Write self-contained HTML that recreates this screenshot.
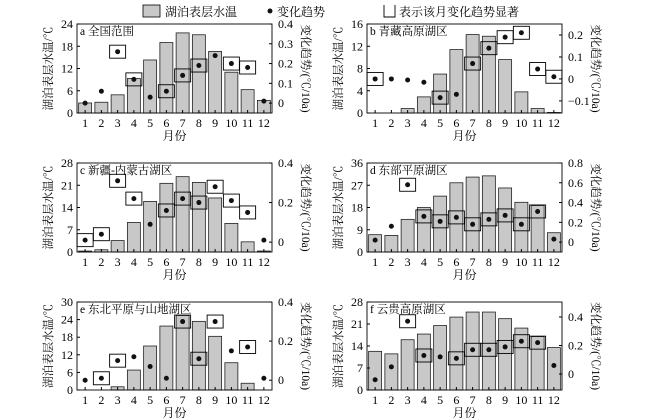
<!DOCTYPE html>
<html><head><meta charset="utf-8"><style>
html,body{margin:0;padding:0;background:#fff;}
svg{display:block;font-family:"Liberation Serif","Noto Serif CJK SC","Noto Sans CJK SC",serif;}
</style></head><body>
<svg id="s" width="650" height="420" viewBox="0 0 650 420" xmlns="http://www.w3.org/2000/svg">
<rect x="143" y="5" width="17" height="12" fill="#c8c8c8" stroke="#000" stroke-width="0.8"/>
<text x="165" y="16" font-size="12">湖泊表层水温</text>
<circle cx="270" cy="11" r="2.5" fill="#111"/>
<text x="277" y="16" font-size="12">变化趋势</text>
<path d="M384 5 V17 H395 V5" fill="none" stroke="#000" stroke-width="0.9"/>
<text x="399" y="16" font-size="12">表示该月变化趋势显著</text>
</svg>
<script>
var s=document.getElementById('s');var NS='http://www.w3.org/2000/svg';
function el(t,a,txt){var e=document.createElementNS(NS,t);for(var k in a)e.setAttribute(k,a[k]);if(txt!=null)e.textContent=txt;s.appendChild(e);return e;}
var P=[
{x0:77,x1:272,y0:24,y1:113,lmax:24,lt:[0,6,12,18,24],rmin:-0.05,rmax:0.4,rt:[0,0.1,0.2,0.3,0.4],rl:['0','0.1','0.2','0.3','0.4'],t:'a 全国范围',
b:[2.7,2.9,4.9,9.3,14.3,19,21.6,21.1,16.6,11,6.3,3.4],tr:[0,0.06,0.26,0.12,0.03,0.06,0.14,0.19,0.24,0.2,0.18,0.01],sg:[3,4,6,7,8,10,11]},
{x0:367,x1:562,y0:24,y1:113,lmax:16,lt:[0,4,8,12,16],rmin:-0.155,rmax:0.25,rt:[-0.1,0,0.1,0.2],rl:['−0.1','0','0.1','0.2'],t:'b 青藏高原湖区',
b:[0,0,0.8,2.9,7,11.4,14.1,13.8,9.6,3.8,0.8,0.1],tr:[0,0,-0.005,-0.015,-0.085,-0.07,0.07,0.14,0.19,0.21,0.045,0.01],sg:[1,5,7,8,9,10,11,12]},
{x0:77,x1:272,y0:163,y1:252,lmax:28,lt:[0,7,14,21,28],rmin:-0.05,rmax:0.4,rt:[0,0.2,0.4],rl:['0','0.2','0.4'],t:'c 新疆-内蒙古湖区',
b:[0.3,0.7,3.6,9.3,15.9,21.6,23.7,21.9,17,9,3.2,0.3],tr:[0.01,0.04,0.31,0.22,0.09,0.16,0.22,0.2,0.28,0.21,0.15,0.01],sg:[1,2,3,4,6,7,8,9,10,11]},
{x0:367,x1:562,y0:163,y1:252,lmax:36,lt:[0,9,18,27,36],rmin:-0.1,rmax:0.8,rt:[0,0.2,0.4,0.6,0.8],rl:['0','0.2','0.4','0.6','0.8'],t:'d 东部平原湖区',
b:[7,6.7,13.2,18,22.6,28,30.3,30.8,25.9,20.1,18.8,7.8],tr:[0.02,0.16,0.58,0.26,0.21,0.25,0.18,0.23,0.27,0.18,0.31,0.03],sg:[3,4,5,6,7,8,9,10,11]},
{x0:77,x1:272,y0:302,y1:390,lmax:30,lt:[0,6,12,18,24,30],rmin:-0.05,rmax:0.4,rt:[0,0.2,0.4],rl:['0','0.2','0.4'],t:'e 东北平原与山地湖区',
b:[0,0,1.1,6.8,15,21.8,25.4,23.4,18.3,9.3,2.3,0],tr:[0,0.01,0.1,0.12,0.07,0.01,0.3,0.11,0.3,0.15,0.17,0.01],sg:[2,3,7,8,9,11]},
{x0:367,x1:562,y0:302,y1:390,lmax:28,lt:[0,7,14,21,28],rmin:-0.112,rmax:0.505,rt:[0,0.2,0.4],rl:['0','0.2','0.4'],t:'f 云贵高原湖区',
b:[12.3,11.5,16,17.8,20.5,23.2,24.8,24.8,22.7,19.7,17,13.5],tr:[-0.04,0.05,0.37,0.13,0.12,0.11,0.17,0.17,0.19,0.23,0.22,0.06],sg:[3,4,6,7,8,9,10,11]}
];
P.forEach(function(p){
 var w=p.x1-p.x0,h=p.y1-p.y0,sp=w/12;
 function X(i){return p.x0+sp*(i+0.5);}
 function YL(v){return p.y1-v/p.lmax*h;}
 function YR(v){return p.y1-(v-p.rmin)/(p.rmax-p.rmin)*h;}
 p.b.forEach(function(v,i){if(v>0)el('rect',{x:X(i)-6.5,y:YL(v),width:13,height:p.y1-YL(v),fill:'#c8c8c8',stroke:'#222','stroke-width':0.8});});
 p.tr.forEach(function(v,i){var cx=X(i),cy=YR(v);
  if(p.sg.indexOf(i+1)>=0)el('rect',{x:cx-8,y:cy-6.5,width:16,height:13,fill:'none',stroke:'#000','stroke-width':0.9});
  el('circle',{cx:cx,cy:cy,r:2.5,fill:'#111'});});
 el('rect',{x:p.x0,y:p.y0,width:w,height:h,fill:'none',stroke:'#000','stroke-width':0.9});
 p.lt.forEach(function(v){var y=YL(v);el('line',{x1:p.x0,x2:p.x0+3,y1:y,y2:y,stroke:'#000'});el('text',{x:p.x0-4,y:y+4,'font-size':12,'text-anchor':'end'},v);});
 p.rt.forEach(function(v,k){var y=YR(v);el('line',{x1:p.x1-3,x2:p.x1,y1:y,y2:y,stroke:'#000'});el('text',{x:p.x1+6,y:y+4,'font-size':12},p.rl[k]);});
 for(var i=0;i<12;i++){el('line',{x1:X(i),x2:X(i),y1:p.y1,y2:p.y1-3,stroke:'#000'});el('text',{x:X(i),y:p.y1+14,'font-size':12,'text-anchor':'middle'},i+1);}
 el('text',{x:(p.x0+p.x1)/2,y:p.y1+27,'font-size':12,'text-anchor':'middle'},'月份');
 el('text',{x:p.x0+3,y:p.y0+11,'font-size':11.5},p.t);
 var cy=(p.y0+p.y1)/2;
 el('text',{x:p.x0-25,y:cy,'font-size':11.5,'text-anchor':'middle',transform:'rotate(-90 '+(p.x0-25)+' '+cy+')'},'湖泊表层水温/℃');
 el('text',{x:p.x1+30,y:cy,'font-size':11.5,'text-anchor':'middle',transform:'rotate(90 '+(p.x1+30)+' '+cy+')'},'变化趋势/(℃/10a)');
});
</script>
</body></html>
